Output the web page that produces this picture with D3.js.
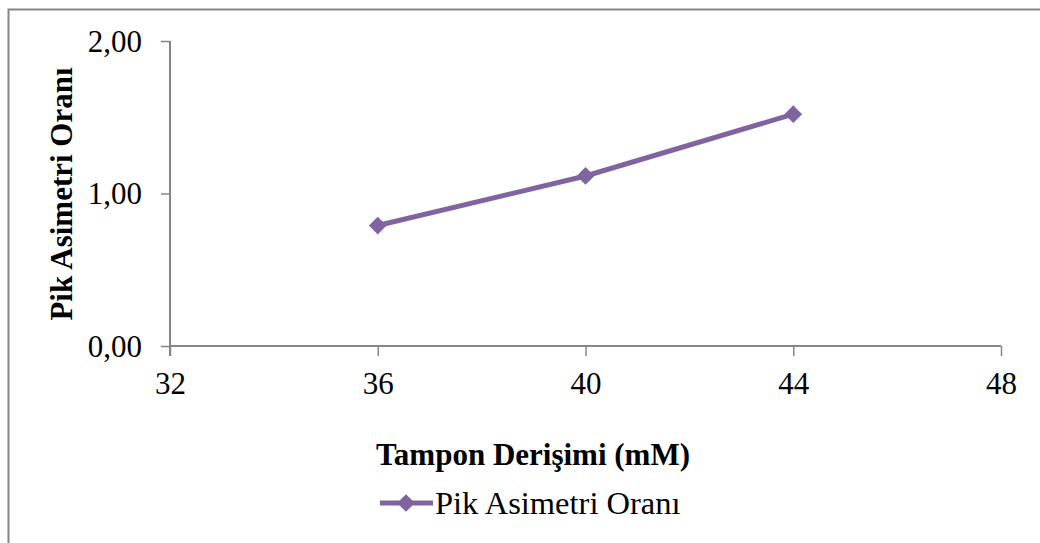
<!DOCTYPE html>
<html>
<head>
<meta charset="utf-8">
<script src="https://cdn.jsdelivr.net/npm/d3@7"></script>
<style>
  body { margin: 0; background: #fff; }
  svg { display: block; font-family: "Liberation Serif", "Times New Roman", serif; }
</style>
</head>
<body>
<svg id="chart"></svg>
<script>
const concentrations = [36, 40, 44];
const asymmetry = [0.79, 1.115, 1.52];
const xTicks = [32, 36, 40, 44, 48];
const yTicks = [0, 1, 2];
const seriesName = "Pik Asimetri Oranı";
const xTitle = "Tampon Derişimi (mM)";
const yTitle = "Pik Asimetri Oranı";

const width = 1040, height = 543;
const margin = { top: 41, right: 39, bottom: 197, left: 170 };
const color = "#8064a2";
const axisColor = "#868686";
const fontSize = "31px";

const svg = d3.select("#chart")
  .attr("width", width)
  .attr("height", height);

// outer chart frame (runs off right and bottom edges)
svg.append("rect")
  .attr("x", 8.5).attr("y", 9.5)
  .attr("width", 1060).attr("height", 560)
  .attr("fill", "none")
  .attr("stroke", axisColor)
  .attr("stroke-width", 2);

const xScale = d3.scaleLinear()
  .domain([32, 48])
  .range([margin.left, width - margin.right]);

const yScale = d3.scaleLinear()
  .domain([0, 2])
  .range([height - margin.bottom, margin.top]);

const commaFmt = d => d3.format(".2f")(d).replace(".", ",");

const xAxisGroup = svg.append("g")
  .attr("transform", `translate(0,${yScale(0)})`)
  .call(d3.axisBottom(xScale).tickValues(xTicks).tickSize(10).tickPadding(16).tickFormat(d3.format("d")));

const yAxisGroup = svg.append("g")
  .attr("transform", `translate(${xScale(32)},0)`)
  .call(d3.axisLeft(yScale).tickValues(yTicks).tickSize(9).tickPadding(19).tickFormat(commaFmt));

[xAxisGroup, yAxisGroup].forEach(g => {
  g.select(".domain").attr("stroke", axisColor).attr("stroke-width", 2);
  g.selectAll(".tick line").attr("stroke", axisColor).attr("stroke-width", 1.5);
  g.selectAll("text")
    .attr("fill", "#000")
    .style("font-family", "Liberation Serif")
    .style("font-size", fontSize);
});
xAxisGroup.select(".domain").attr("d", `M${xScale(32)},0H${xScale(48)}`);
yAxisGroup.select(".domain").attr("d", `M0,${yScale(2)}V${yScale(0) + 10}`);
yAxisGroup.selectAll(".tick text").attr("dy", "0.33em");

// series line
const line = d3.line()
  .x((d, i) => xScale(concentrations[i]))
  .y(d => yScale(d));

svg.append("path")
  .datum(asymmetry)
  .attr("fill", "none")
  .attr("stroke", color)
  .attr("stroke-width", 5)
  .attr("d", line);

const diamond = d3.symbol().type(d3.symbolDiamond2).size(200);

svg.selectAll(".marker")
  .data(asymmetry)
  .enter()
  .append("path")
  .attr("class", "marker")
  .attr("transform", (d, i) => `translate(${xScale(concentrations[i])},${yScale(d)})`)
  .attr("d", diamond)
  .attr("fill", color);

// axis titles
svg.append("text")
  .attr("x", 533).attr("y", 465)
  .attr("text-anchor", "middle")
  .style("font-size", fontSize)
  .style("font-weight", "bold")
  .text(xTitle);

svg.append("text")
  .attr("transform", `translate(72,194) rotate(-90)`)
  .attr("text-anchor", "middle")
  .style("font-size", fontSize)
  .style("font-weight", "bold")
  .text(yTitle);

// legend
const legend = svg.append("g").attr("transform", "translate(380,503)");
legend.append("line")
  .attr("x1", 0).attr("x2", 53)
  .attr("stroke", color).attr("stroke-width", 5);
legend.append("path")
  .attr("transform", "translate(26,0)")
  .attr("d", diamond)
  .attr("fill", color);
legend.append("text")
  .attr("x", 55).attr("y", 0).attr("dy", "0.35em")
  .style("font-size", "32.5px")
  .text(seriesName);
</script>
</body>
</html>
